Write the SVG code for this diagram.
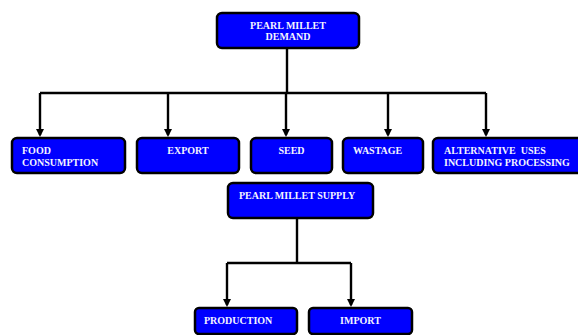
<svg xmlns="http://www.w3.org/2000/svg" width="578" height="335" viewBox="0 0 578 335">
<style>
.box{fill:#0000FF;stroke:#000;stroke-width:2.5}
.t{font-family:"Liberation Serif","Times New Roman",serif;font-weight:bold;font-size:10px;fill:#F4F4FF}
.c{text-anchor:middle}
.ln{fill:none;stroke:#000;stroke-width:2.4}
</style>
<defs>
<marker id="ah" markerWidth="8" markerHeight="8" refX="6" refY="4" orient="auto" markerUnits="userSpaceOnUse">
<path d="M0,0 L8,4 L0,8 Z" fill="#000"/>
</marker>
</defs>
<rect width="578" height="335" fill="#fff"/>
<g id="connectors">
<path class="ln" d="M287,48 V93"/>
<path class="ln" d="M40,93 H486"/>
<path class="ln" d="M40,93 V135" marker-end="url(#ah)"/>
<path class="ln" d="M168,93 V135" marker-end="url(#ah)"/>
<path class="ln" d="M286,93 V135" marker-end="url(#ah)"/>
<path class="ln" d="M388,93 V135" marker-end="url(#ah)"/>
<path class="ln" d="M486,93 V135" marker-end="url(#ah)"/>
<path class="ln" d="M297,218 V263"/>
<path class="ln" d="M227,263 H351"/>
<path class="ln" d="M227,263 V305" marker-end="url(#ah)"/>
<path class="ln" d="M351,263 V305" marker-end="url(#ah)"/>
</g>
<g id="demand">
<rect class="box" x="217" y="13" width="142" height="35" rx="5"/>
<text class="t c" x="288" y="29">PEARL MILLET</text>
<text class="t c" x="288" y="40">DEMAND</text>
</g>
<g id="food">
<rect class="box" x="12" y="138" width="113" height="35" rx="5"/>
<text class="t" x="22" y="154">FOOD</text>
<text class="t" x="22" y="166">CONSUMPTION</text>
</g>
<g id="export">
<rect class="box" x="137" y="138" width="102" height="35" rx="5"/>
<text class="t c" x="188" y="154">EXPORT</text>
</g>
<g id="seed">
<rect class="box" x="251" y="138" width="81" height="35" rx="5"/>
<text class="t c" x="291.5" y="154">SEED</text>
</g>
<g id="wastage">
<rect class="box" x="343" y="138" width="80" height="35" rx="5"/>
<text class="t" x="353" y="154">WASTAGE</text>
</g>
<g id="alternative">
<rect class="box" x="433" y="138" width="150" height="35" rx="5"/>
<text class="t" x="444" y="154" xml:space="preserve">ALTERNATIVE  USES</text>
<text class="t" x="444" y="166">INCLUDING PROCESSING</text>
</g>
<g id="supply">
<rect class="box" x="228" y="183" width="145" height="35" rx="5"/>
<text class="t" x="239" y="199">PEARL MILLET SUPPLY</text>
</g>
<g id="production">
<rect class="box" x="195" y="308" width="102" height="26" rx="4"/>
<text class="t" x="204" y="324">PRODUCTION</text>
</g>
<g id="import">
<rect class="box" x="309" y="308" width="103" height="26" rx="4"/>
<text class="t c" x="360.5" y="324">IMPORT</text>
</g>
</svg>
